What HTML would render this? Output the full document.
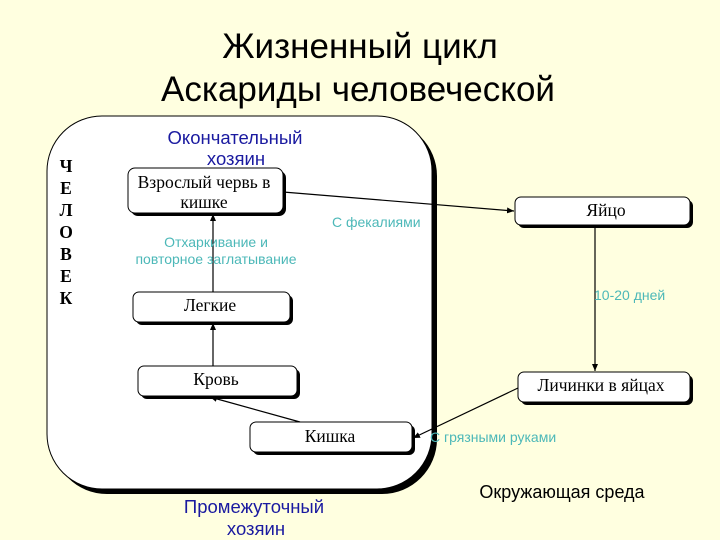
<!DOCTYPE html>
<html><head><meta charset="utf-8"><style>
body{margin:0;background:#ffffe0;}
svg{display:block}
.s{font-family:"Liberation Serif","Noto Serif CJK SC",serif;font-size:17.5px;fill:#000}
.a{font-family:"Liberation Sans","Noto Sans CJK SC",sans-serif}
</style></head><body>
<svg width="720" height="540" viewBox="0 0 720 540">
<defs><marker id="m" markerWidth="8" markerHeight="8" refX="7" refY="4" orient="auto" markerUnits="userSpaceOnUse"><path d="M0,1 L7,4 L0,7 z" fill="#000"/></marker></defs>
<rect width="720" height="540" fill="#ffffe0"/>
<text x="360" y="58" text-anchor="middle" class="a" font-size="35" fill="#000">Жизненный цикл</text>
<text x="358" y="101" text-anchor="middle" class="a" font-size="35" fill="#000">Аскариды человеческой</text>
<rect x="52" y="121" width="385" height="373" rx="55" fill="#000"/>
<rect x="47" y="116" width="385" height="373" rx="55" fill="#fff" stroke="#000" stroke-width="1"/>
<g>
<text x="66" y="172" text-anchor="middle" class="s" font-size="16" font-weight="bold">Ч</text><text x="66" y="194" text-anchor="middle" class="s" font-size="16" font-weight="bold">Е</text><text x="66" y="216" text-anchor="middle" class="s" font-size="16" font-weight="bold">Л</text><text x="66" y="238" text-anchor="middle" class="s" font-size="16" font-weight="bold">О</text><text x="66" y="260" text-anchor="middle" class="s" font-size="16" font-weight="bold">В</text><text x="66" y="282" text-anchor="middle" class="s" font-size="16" font-weight="bold">Е</text><text x="66" y="304" text-anchor="middle" class="s" font-size="16" font-weight="bold">К</text>
</g>
<text x="235" y="144" text-anchor="middle" class="a" font-size="18.5" fill="#1a1aa0">Окончательный</text>
<text x="236" y="165" text-anchor="middle" class="a" font-size="18.5" fill="#1a1aa0">хозяин</text>
<g fill="#000"><rect x="131" y="171" width="155" height="45" rx="7"/><rect x="518" y="200" width="175" height="28" rx="6"/><rect x="136" y="295" width="157" height="30" rx="6"/><rect x="141" y="369" width="159" height="30" rx="6"/><rect x="521" y="375" width="172" height="30" rx="6"/><rect x="253" y="425" width="162" height="30" rx="6"/></g>
<g fill="#fff" stroke="#000"><rect x="128" y="168" width="155" height="45" rx="7"/><rect x="515" y="197" width="175" height="28" rx="6"/><rect x="133" y="292" width="157" height="30" rx="6"/><rect x="138" y="366" width="159" height="30" rx="6"/><rect x="518" y="372" width="172" height="30" rx="6"/><rect x="250" y="422" width="162" height="30" rx="6"/></g>
<text x="204" y="188" text-anchor="middle" class="s">Взрослый червь в</text>
<text x="204" y="208" text-anchor="middle" class="s">кишке</text>
<text x="606" y="216" text-anchor="middle" class="s">Яйцо</text>
<text x="210" y="311" text-anchor="middle" class="s">Легкие</text>
<text x="216" y="385" text-anchor="middle" class="s">Кровь</text>
<text x="601" y="391" text-anchor="middle" class="s">Личинки в яйцах</text>
<text x="330" y="442" text-anchor="middle" class="s">Кишка</text>
<g stroke="#000" stroke-width="1.2" fill="none" marker-end="url(#m)">
<line x1="283" y1="192" x2="514" y2="211"/>
<line x1="213" y1="292" x2="213" y2="214"/>
<line x1="213" y1="366" x2="213" y2="323"/>
<line x1="300" y1="422" x2="210" y2="397"/>
<line x1="595" y1="225" x2="595" y2="371"/>
<line x1="518" y1="388" x2="413" y2="438"/>
</g>
<g class="a" font-size="14" fill="#4cb8b8">
<text x="332" y="227">С фекалиями</text>
<text x="216" y="247" text-anchor="middle">Отхаркивание и</text>
<text x="216" y="264" text-anchor="middle">повторное заглатывание</text>
<text x="594" y="300">10-20 дней</text>
<text x="430" y="442">С грязными руками</text>
</g>
<text x="562" y="498" text-anchor="middle" class="a" font-size="18" fill="#000">Окружающая среда</text>
<text x="254" y="513" text-anchor="middle" class="a" font-size="18.5" fill="#1a1aa0">Промежуточный</text>
<text x="256" y="535" text-anchor="middle" class="a" font-size="18.5" fill="#1a1aa0">хозяин</text>
</svg>
</body></html>
